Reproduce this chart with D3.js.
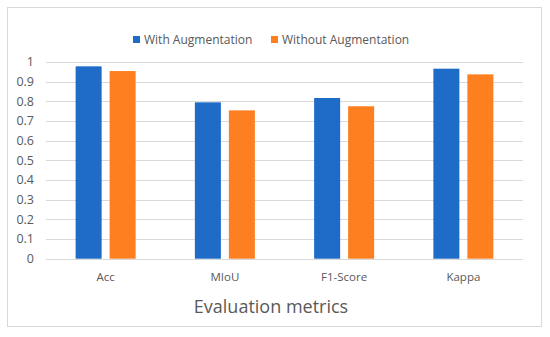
<!DOCTYPE html>
<html>
<head>
<meta charset="utf-8">
<title>Evaluation metrics</title>
<script src="https://d3js.org/d3.v7.min.js"></script>
<style>
  body { margin: 0; background: #fff; }
  svg { display: block; font-family: "Open Sans", "Noto Sans", sans-serif; }
</style>
</head>
<body>
<svg width="550" height="337"></svg>
<script>
// data
var categories = ["Acc", "MIoU", "F1-Score", "Kappa"];
var seriesNames = ["With Augmentation", "Without Augmentation"];
var withAug = [0.978, 0.795, 0.817, 0.966];
var withoutAug = [0.954, 0.754, 0.775, 0.937];
var yTicks = [0, 0.1, 0.2, 0.3, 0.4, 0.5, 0.6, 0.7, 0.8, 0.9, 1];

var colors = ["#1f6cc8", "#fd7f1f"];

// plot area (named so they don't clash with window.top)
var svg = d3.select("svg"),
    plotLeft = 46, plotRight = 523, plotTop = 62, plotBottom = 258.7;

// chart border
svg.append("rect")
   .attr("x", 7.5).attr("y", 7.5)
   .attr("width", 534).attr("height", 319)
   .attr("fill", "none").attr("stroke", "#d9d9d9");

var x = d3.scaleBand().domain(categories).range([plotLeft, plotRight]),
    y = d3.scaleLinear().domain([0, 1]).range([plotBottom, plotTop]);

var inner = d3.scaleBand().domain([0, 1]).range([0, 60]).paddingInner(0.235);

// gridlines
svg.append("g").selectAll("line")
   .data(yTicks)
   .enter().append("line")
   .attr("x1", plotLeft).attr("x2", plotRight)
   .attr("y1", function(d) { return Math.round(y(d)) + 0.5; })
   .attr("y2", function(d) { return Math.round(y(d)) + 0.5; })
   .attr("stroke", "#d9d9d9").attr("stroke-width", 1);

// y labels
svg.append("g").selectAll("text")
   .data(yTicks)
   .enter().append("text")
   .attr("x", 34).attr("y", function(d) { return y(d); })
   .attr("dy", "0.35em")
   .attr("text-anchor", "end")
   .attr("font-size", "12.5px").attr("fill", "#595959")
   .text(function(d) { return d; });

// bars
var rows = categories.map(function(c, i) { return [withAug[i], withoutAug[i]]; });
var groups = svg.append("g").selectAll("g")
   .data(rows)
   .enter().append("g")
   .attr("transform", function(d, i) {
     return "translate(" + (x(categories[i]) + x.bandwidth() / 2 - 30) + ",0)";
   });
groups.selectAll("rect")
   .data(function(d) { return d; })
   .enter().append("rect")
   .attr("x", function(d, j) { return inner(j); })
   .attr("width", inner.bandwidth())
   .attr("y", function(d) { return y(d); })
   .attr("height", function(d) { return plotBottom - y(d); })
   .attr("fill", function(d, j) { return colors[j]; });

// x labels
svg.append("g").selectAll("text")
   .data(categories)
   .enter().append("text")
   .attr("x", function(d) { return x(d) + x.bandwidth() / 2; })
   .attr("y", 281)
   .attr("text-anchor", "middle")
   .attr("font-size", "11.5px").attr("fill", "#595959")
   .text(function(d) { return d; });

// axis title
svg.append("text")
   .attr("x", 271).attr("y", 313)
   .attr("text-anchor", "middle")
   .attr("font-size", "18px").attr("fill", "#595959")
   .text("Evaluation metrics");

// legend
var legendX = [133, 271];
var leg = svg.append("g").selectAll("g")
   .data(seriesNames)
   .enter().append("g")
   .attr("transform", function(d, i) { return "translate(" + legendX[i] + ",36)"; });
leg.append("rect")
   .attr("width", 7).attr("height", 7)
   .attr("fill", function(d, i) { return colors[i]; });
leg.append("text")
   .attr("x", 11).attr("y", 7.5)
   .attr("font-size", "12px").attr("fill", "#595959")
   .text(function(d) { return d; });
</script>
</body>
</html>
